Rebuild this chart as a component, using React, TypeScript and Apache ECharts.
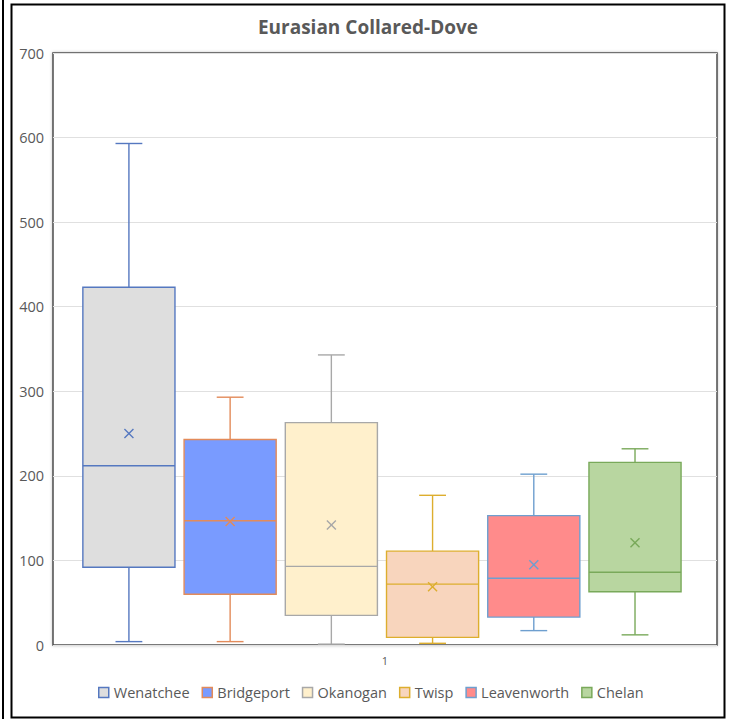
import React, { useEffect, useRef } from 'react';
import * as echarts from 'echarts';

// ---- data ----
const stations = ['Wenatchee', 'Bridgeport', 'Okanogan', 'Twisp', 'Leavenworth', 'Chelan'];
const minValues = [4, 4, 1, 2, 17, 12];
const q1Values = [92, 60, 35, 9, 33, 63];
const medianValues = [212, 147, 93, 72, 79, 86];
const q3Values = [423, 243, 263, 111, 153, 216];
const maxValues = [593, 293, 343, 177, 202, 232];
const meanValues = [250, 146, 142, 69, 95, 121];
const categoryLabels = ['1'];
const yMin = 0;
const yMax = 700;
const yInterval = 100;
const chartTitle = 'Eurasian Collared-Dove';

// ---- styles ----
const FILLS = ['#DEDEDE', '#799BFF', '#FFF0CC', '#F8D5BD', '#FF8B8B', '#B8D6A0'];
const STROKES = ['#5578C0', '#E38B5A', '#A8A8A8', '#DDAE2E', '#6E9FCF', '#79A95A'];
const FONT = '"Open Sans", "Noto Sans", sans-serif';
const TEXT_COLOR = '#595959';

export default function App() {
  const ref = useRef<HTMLDivElement>(null);

  useEffect(() => {
    if (!ref.current) return;
    const chart = echarts.init(ref.current, null, { renderer: 'svg' });

    const series = stations.map((name, i) => ({
      name,
      type: 'custom',
      xAxisIndex: 0,
      yAxisIndex: 0,
      itemStyle: { color: FILLS[i], borderColor: STROKES[i], borderWidth: 1 },
      encode: { x: 0, y: [1, 2, 3, 4, 5, 6] },
      data: [[i, minValues[i], q1Values[i], medianValues[i], q3Values[i], maxValues[i], meanValues[i]]],
      renderItem: (params: any, api: any) => {
        const xv = api.value(0);
        const pMin = api.coord([xv, api.value(1)]);
        const pQ1 = api.coord([xv, api.value(2)]);
        const pMed = api.coord([xv, api.value(3)]);
        const pQ3 = api.coord([xv, api.value(4)]);
        const pMax = api.coord([xv, api.value(5)]);
        const pMean = api.coord([xv, api.value(6)]);
        const cx = pMin[0];
        const halfBox = api.size([0.91, 0])[0] / 2;
        const halfCap = api.size([0.265, 0])[0] / 2;
        const m = 4.5;
        const lineStyle = { stroke: STROKES[i], lineWidth: 1.4, fill: null };
        return {
          type: 'group',
          children: [
            { type: 'line', shape: { x1: cx, y1: pMax[1], x2: cx, y2: pQ3[1] }, style: lineStyle },
            { type: 'line', shape: { x1: cx, y1: pQ1[1], x2: cx, y2: pMin[1] }, style: lineStyle },
            { type: 'line', shape: { x1: cx - halfCap, y1: pMax[1], x2: cx + halfCap, y2: pMax[1] }, style: lineStyle },
            { type: 'line', shape: { x1: cx - halfCap, y1: pMin[1], x2: cx + halfCap, y2: pMin[1] }, style: lineStyle },
            {
              type: 'rect',
              shape: { x: cx - halfBox, y: pQ3[1], width: halfBox * 2, height: pQ1[1] - pQ3[1] },
              style: { fill: FILLS[i], stroke: STROKES[i], lineWidth: 1.4 },
            },
            { type: 'line', shape: { x1: cx - halfBox, y1: pMed[1], x2: cx + halfBox, y2: pMed[1] }, style: lineStyle },
            { type: 'line', shape: { x1: cx - m, y1: pMean[1] - m, x2: cx + m, y2: pMean[1] + m }, style: lineStyle },
            { type: 'line', shape: { x1: cx - m, y1: pMean[1] + m, x2: cx + m, y2: pMean[1] - m }, style: lineStyle },
          ],
        };
      },
    }));

    chart.setOption({
      animation: false,
      backgroundColor: '#ffffff',
      textStyle: { fontFamily: FONT },
      graphic: [
        { type: 'line', shape: { x1: 3, y1: 0, x2: 3, y2: 719 }, style: { stroke: '#000', lineWidth: 2 } },
        {
          type: 'rect',
          shape: { x: 11.5, y: 4.5, width: 713, height: 713 },
          style: { fill: null, stroke: '#000', lineWidth: 2 },
        },
        {
          type: 'text',
          x: 368,
          y: 27,
          style: {
            text: chartTitle,
            textAlign: 'center',
            textVerticalAlign: 'middle',
            fontFamily: FONT,
            fontWeight: 'bold',
            fontSize: 19,
            fill: TEXT_COLOR,
          },
        },
      ],
      grid: {
        left: 53,
        top: 53,
        right: 14,
        bottom: 74,
        show: true,
        backgroundColor: '#ffffff',
        borderColor: '#4d4d4d',
        borderWidth: 1.5,
        shadowBlur: 3,
        shadowColor: 'rgba(0,0,0,0.25)',
        containLabel: false,
      },
      legend: {
        left: 93,
        top: 680,
        icon: 'rect',
        itemWidth: 10,
        itemHeight: 10,
        itemGap: 12,
        textStyle: { fontFamily: FONT, fontSize: 14.5, color: TEXT_COLOR },
        data: stations.map((name, i) => ({
          name,
          itemStyle: { color: FILLS[i], borderColor: STROKES[i], borderWidth: 1.5 },
        })),
      },
      xAxis: [
        {
          type: 'value',
          min: -0.75,
          max: 5.81,
          show: false,
        },
        {
          type: 'category',
          data: categoryLabels,
          position: 'bottom',
          axisLine: { show: false },
          axisTick: { show: false },
          splitLine: { show: false },
          axisLabel: { color: TEXT_COLOR, fontSize: 11, margin: 10, fontFamily: FONT },
        },
      ],
      yAxis: {
        type: 'value',
        min: yMin,
        max: yMax,
        interval: yInterval,
        axisLine: { show: false },
        axisTick: { show: false },
        axisLabel: { color: TEXT_COLOR, fontSize: 14.5, margin: 9, fontFamily: FONT },
        splitLine: { show: true, lineStyle: { color: '#e0e0e0', width: 1.2 } },
      },
      series,
    });

    return () => chart.dispose();
  }, []);

  return (
    <div
      ref={ref}
      style={{ position: 'fixed', left: 0, top: 0, width: 731, height: 719, background: '#fff' }}
    />
  );
}
